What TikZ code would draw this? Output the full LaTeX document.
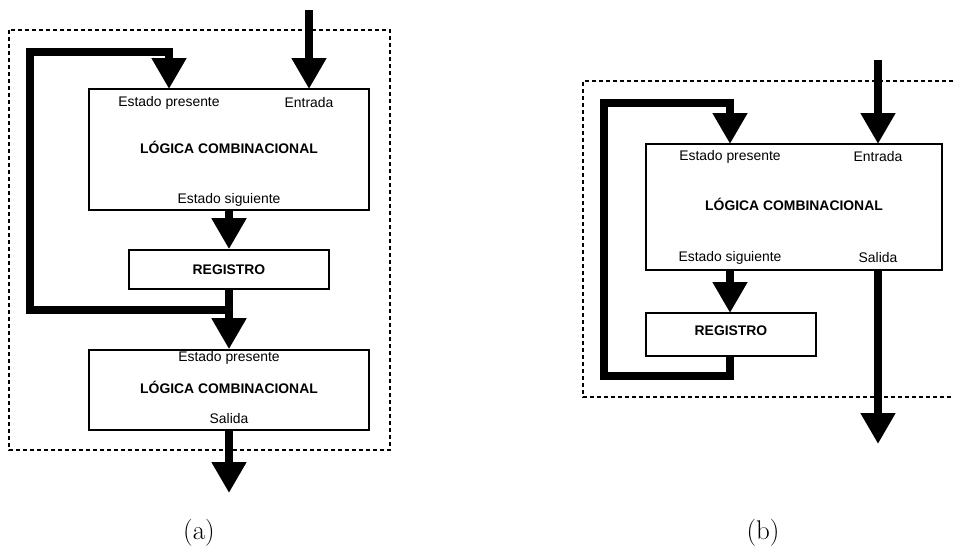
\documentclass[tikz,border=0pt]{standalone}
\usepackage{fontspec}
\newfontfamily\sansf{Liberation Sans}
\usetikzlibrary{arrows.meta}
\tikzset{
  blk/.style={draw, line width=1.6pt, inner sep=0pt, fill=white},
  lbl/.style={inner sep=0pt, font=\sansf\fontsize{13.9}{16}\selectfont},
  blbl/.style={inner sep=0pt, font=\sansf\bfseries\fontsize{13.9}{16}\selectfont},
  fat/.style={line width=8.5pt, line join=miter, line cap=butt},
  fatarrow/.style={fat, -{Triangle[length=31pt,width=33pt]}},
  frame/.style={line width=1.3pt, dash pattern=on 4pt off 3pt},
  captext/.style={inner sep=0pt, font=\fontsize{27}{32}\selectfont}
}
\begin{document}
\begin{tikzpicture}[x=1pt,y=-1pt]
\useasboundingbox (0,0) rectangle (953,550);

% ---------------- (a) ----------------
\draw[frame] (9,30) rectangle (390,450);

\node[blk, minimum width=280pt, minimum height=121pt] (la) at (229,149.5) {};
\node[blk, minimum width=200pt, minimum height=39pt] (ra) at (229,269.5) {};
\node[blk, minimum width=280pt, minimum height=80pt] (sa) at (229,390) {};

\node[lbl]  (la-ep) at (169,103) {Estado presente};
\node[lbl]  (la-in) at (309,103) {Entrada};
\node[blbl] (la-t)  at (229,147) {LÓGICA COMBINACIONAL};
\node[lbl]  (la-es) at (229,200) {Estado siguiente};
\node[blbl] (ra-t)  at (229,269.5) {REGISTRO};

\coordinate (ina) at (309,10);
\coordinate (ina-e) at (309,89);
\coordinate (fba-j) at (229,310);
\coordinate (fba-1) at (30,310);
\coordinate (fba-2) at (30,52);
\coordinate (fba-3) at (169,52);
\coordinate (fba-e) at (169,89);
\coordinate (outa) at (229,493);

\draw[fatarrow] (ina) -- (ina-e);
\draw[fatarrow] (la.south) -- (ra.north);
\draw[fat] (fba-j) -- (fba-1) -- (fba-2) -- (fba-3) -- (169,60);
\draw[fatarrow] (fba-3) -- (fba-e);
\draw[fatarrow] (ra.south) -- (sa.north);

% label over the arrow tip
\node[lbl]  (sa-ep) at (229,358) {Estado presente};
\node[blbl] (sa-t)  at (229,387) {LÓGICA COMBINACIONAL};
\node[lbl]  (sa-s)  at (229,419) {Salida};
\draw[fatarrow] (sa.south) -- (outa);

\node[captext] (capa) at (199,533) {(a)};

% ---------------- (b) ----------------
\draw[frame] (953,81) -- (583,81) -- (583,397) -- (953,397);

\node[blk, minimum width=296pt, minimum height=126pt] (lb) at (794,207) {};
\node[blk, minimum width=170pt, minimum height=43pt] (rb) at (731,334.5) {};

\node[lbl]  (lb-ep) at (730,157) {Estado presente};
\node[lbl]  (lb-in) at (878,157) {Entrada};
\node[blbl] (lb-t)  at (794,204) {LÓGICA COMBINACIONAL};
\node[lbl]  (lb-es) at (730,258) {Estado siguiente};
\node[lbl]  (lb-s)  at (878,258) {Salida};
\node[blbl] (rb-t)  at (731,331) {REGISTRO};

\coordinate (inb) at (878,60);
\coordinate (inb-e) at (878,144);
\coordinate (lb-ss) at (730,270);
\coordinate (lb-os) at (878,270);
\coordinate (rb-n) at (730,313);
\coordinate (rb-s) at (730,356);
\coordinate (fbb-1) at (730,376);
\coordinate (fbb-2) at (604,376);
\coordinate (fbb-3) at (604,103);
\coordinate (fbb-4) at (730,103);
\coordinate (fbb-e) at (730,144);
\coordinate (outb) at (878,444);

\draw[fatarrow] (inb) -- (inb-e);
\draw[fatarrow] (lb-ss) -- (rb-n);
\draw[fat] (rb-s) -- (fbb-1) -- (fbb-2) -- (fbb-3) -- (fbb-4) -- (730,110);
\draw[fatarrow] (fbb-4) -- (fbb-e);
\draw[fatarrow] (lb-os) -- (outb);

\node[captext] (capb) at (763,533) {(b)};
\end{tikzpicture}
\end{document}
